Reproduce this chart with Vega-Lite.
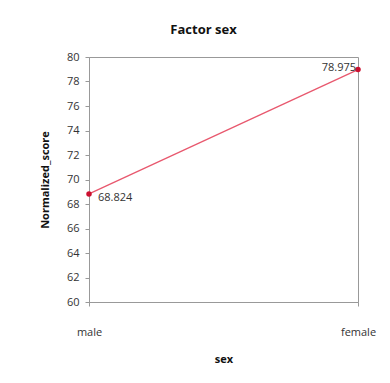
{
  "$schema": "https://vega.github.io/schema/vega-lite/v6.json",
  "autosize": "none",
  "padding": {"left": 89, "top": 57, "right": 32, "bottom": 81},
  "width": 269,
  "height": 245,
  "background": "white",
  "title": {"text": "Factor sex", "font": "Open Sans", "fontSize": 13, "fontWeight": "bold", "color": "#111", "offset": 14, "dx": -20},
  "data": {"values": [
    {"sex": "male", "score": 68.824, "label": "68.824", "pos": "right"},
    {"sex": "female", "score": 78.975, "label": "78.975", "pos": "left"}
  ]},
  "config": {
    "view": {"stroke": "#999", "strokeWidth": 1},
    "axis": {"labelFont": "Open Sans", "titleFont": "Open Sans", "labelColor": "#333", "titleColor": "#111", "labelFontSize": 11, "titleFontSize": 11, "domainColor": "#999", "tickColor": "#999", "grid": false}
  },
  "encoding": {
    "x": {"field": "sex", "type": "nominal", "sort": ["male", "female"],
          "scale": {"type": "point", "padding": 0},
          "axis": {"labelAngle": 0, "labelPadding": 20, "tickSize": 4, "title": "sex", "titleFontWeight": "bold", "titlePadding": 16}},
    "y": {"field": "score", "type": "quantitative",
          "scale": {"domain": [60, 80], "nice": false},
          "axis": {"values": [60, 62, 64, 66, 68, 70, 72, 74, 76, 78, 80], "tickSize": 4, "labelPadding": 6, "title": "Normalized_score", "titleFontWeight": "bold", "titlePadding": 16}}
  },
  "layer": [
    {"mark": {"type": "line", "color": "#e8586e", "strokeWidth": 1.3}},
    {"mark": {"type": "point", "filled": true, "color": "#cc1030", "size": 30, "opacity": 1}},
    {"transform": [{"filter": "datum.pos == 'right'"}],
     "mark": {"type": "text", "align": "left", "dx": 9, "dy": 4, "font": "Open Sans", "fontSize": 11, "color": "#333"},
     "encoding": {"text": {"field": "label"}}},
    {"transform": [{"filter": "datum.pos == 'left'"}],
     "mark": {"type": "text", "align": "right", "dx": -2, "dy": -2, "font": "Open Sans", "fontSize": 11, "color": "#333"},
     "encoding": {"text": {"field": "label"}}}
  ]
}
